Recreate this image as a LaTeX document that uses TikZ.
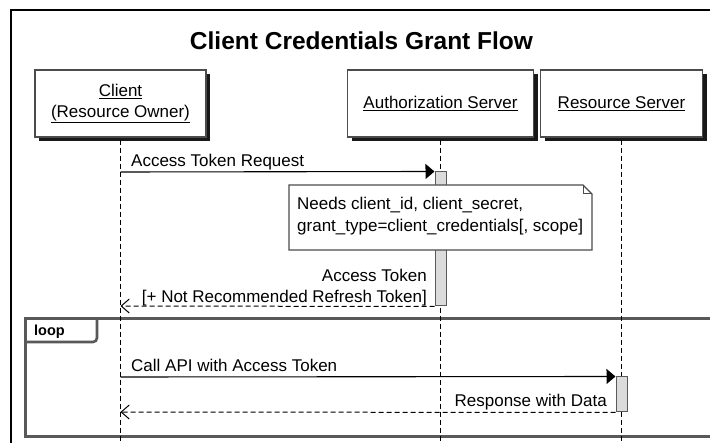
\documentclass[tikz,border=0pt]{standalone}
\usepackage{fontspec}
\setmainfont{Liberation Sans}
\usetikzlibrary{shadows,arrows.meta}
\begin{document}
\begin{tikzpicture}[x=1pt,y=-1pt,
  every node/.style={font=\fontsize{17}{20}\selectfont},
  participant/.style={draw=black!70, line width=1.3pt, fill=white, align=center,
    inner sep=0pt, minimum height=67pt,
    drop shadow={shadow xshift=4pt, shadow yshift=-4pt, fill=black, opacity=0.9}},
  lifeline/.style={draw=black, line width=0.9pt, dash pattern=on 5pt off 3pt},
  actbar/.style={draw=black!65, fill=black!14, line width=1pt, minimum width=11pt, inner sep=0pt},
  syncmsg/.style={draw=black, line width=1.1pt, -{Triangle[length=9pt,width=15pt]}},
  retmsg/.style={draw=black, line width=1pt, dash pattern=on 5pt off 3pt,
    -{Straight Barb[length=8pt,width=14pt]}},
  msglabel/.style={inner sep=0pt},
  framebox/.style={draw=black!65, line width=3pt},
  notebox/.style={draw=black!70, fill=white, line width=1.2pt},
]
\useasboundingbox (0,0) rectangle (710,443);
\clip (0,0) rectangle (710,443);
\fill[white] (0,0) rectangle (710,443);

% outer frame
\draw[black, line width=2.6pt] (11,10) rectangle (760,520);

% title
\node[font=\bfseries\fontsize{24.5}{28}\selectfont, inner sep=0pt, anchor=base] (title) at (361.5,50) {Client Credentials Grant Flow};

% loop frame
\draw[framebox] (25,319) rectangle (760,437);
\draw[framebox, line width=2.6pt] (25,342) -- (92,342) [rounded corners=4pt] -- (97,342) -- (97,319);
\node[font=\bfseries\fontsize{14.5}{17}\selectfont, anchor=base west, inner sep=0pt] (looplbl) at (34,336) {loop};

% participants
\node[participant, minimum width=171pt] (client) at (120.5,103.5) {\underline{Client}\\[1pt]\underline{(Resource Owner)}};
\node[participant, minimum width=186pt] (auth) at (440.5,103.5) {\underline{Authorization Server}};
\node[participant, minimum width=162pt] (res) at (621.5,103.5) {\underline{Resource Server}};

% lifeline ends
\coordinate (clientend) at (120.5,450);
\coordinate (authend) at (440.5,450);
\coordinate (resend) at (621.5,450);
\draw[lifeline] ([yshift=-2pt]client.south) -- (clientend);
\draw[lifeline] ([yshift=-2pt]auth.south) -- (authend);
\draw[lifeline] ([yshift=-2pt]res.south) -- (resend);

% activation bars
\node[actbar, minimum height=134pt] (abar) at (440.5,239) {};
\node[actbar, minimum height=35pt] (rbar) at (621.5,394.5) {};

% note
\coordinate (noteNW) at (289,185);
\coordinate (noteSE) at (592,250);
\draw[notebox] (noteNW) -- (583,185) -- (592,194) -- (noteSE) -- (289,250) -- cycle;
\draw[draw=black!70, line width=1pt] (583,185) -- (583,194) -- (592,194);
\node[anchor=north west, align=left, inner sep=0pt, font=\fontsize{17}{21.5}\selectfont] (notetext) at (297,197)
  {Needs client\_id, client\_secret,\\grant\_type=client\_credentials[, scope]};

% message endpoints
\coordinate (m1s) at (120.5,172);
\coordinate (m2e) at (120.5,306);
\coordinate (m3s) at (120.5,377);
\coordinate (m4e) at (120.5,412);

% messages
\draw[syncmsg] (m1s) -- (abar.north west);
\node[msglabel, anchor=base west] (l1) at (131,167) {Access Token Request};

\draw[retmsg] (abar.south west) -- (m2e);
\node[msglabel, anchor=base east] (l2a) at (427,282) {Access Token};
\node[msglabel, anchor=base east] (l2b) at (427,303) {[+ Not Recommended Refresh Token]};

\draw[syncmsg] (m3s) -- (rbar.north west);
\node[msglabel, anchor=base west] (l3) at (131,372) {Call API with Access Token};

\draw[retmsg] (rbar.south west) -- (m4e);
\node[msglabel, anchor=base east] (l4) at (607,407) {Response with Data};
\end{tikzpicture}
\end{document}
